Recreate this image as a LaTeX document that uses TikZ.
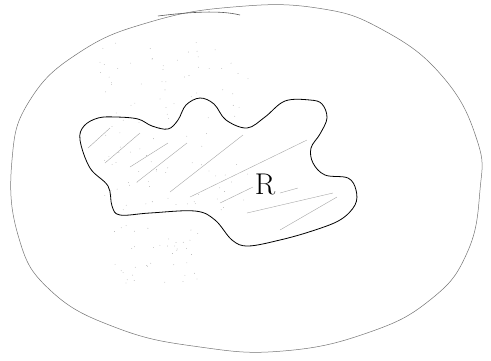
\documentclass[tikz,border=0pt]{standalone}
\begin{document}
\begin{tikzpicture}[x=1pt,y=-1pt,
  outline/.style={draw=black!55, line width=0.5pt},
  blobline/.style={draw=black, line width=0.8pt},
  hatch/.style={draw=black!35, line width=0.4pt},
  stipple/.style={fill=black!35}]
\useasboundingbox (0,0) rectangle (491,360);
% outer ellipse (hand drawn)
\draw[outline] plot[smooth cycle, tension=0.75] coordinates {
  (12,160) (30,100) (80,52) (150,22) (233,7) (317,8) (383,30) (443,77)
  (477,140) (480,190) (467,253) (430,300) (367,333) (283,351) (200,347)
  (117,328) (50,290) (18,235)};
\draw[draw=black!65, line width=0.6pt] (158,16) .. controls (190,12) and (220,10) .. (240,15);
% stipple dots
\pgfmathsetseed{7}
\foreach \i in {1,...,110}{
  \pgfmathsetmacro{\px}{100+rnd*150}
  \pgfmathsetmacro{\py}{40+rnd*170}
  \fill[stipple] (\px,\py) circle (0.4pt);
}
\foreach \i in {1,...,40}{
  \pgfmathsetmacro{\px}{110+rnd*90}
  \pgfmathsetmacro{\py}{225+rnd*60}
  \fill[stipple] (\px,\py) circle (0.4pt);
}
% hatching
\draw[hatch] (88,148) -- (110,128);
\draw[hatch] (105,163) -- (140,133);
\draw[hatch] (130,167) -- (168,143);
\draw[hatch] (137,182) -- (187,143);
\draw[hatch] (170,192) -- (243,135);
\draw[hatch] (190,197) -- (307,140);
\draw[hatch] (220,203) -- (253,187);
\draw[hatch] (280,193) -- (298,188);
\draw[hatch] (247,213) -- (333,193);
\draw[hatch] (280,230) -- (337,197);
% region R
\draw[blobline] plot[smooth cycle, tension=0.6] coordinates {
  (80,140) (90,168) (108,186) (112,206) (120,215) (150,213) (195,211)
  (215,220) (232,240) (248,246) (280,240) (312,231) (340,220) (355,205)
  (356,190) (348,178) (325,175) (313,163) (311,148) (320,134) (327,118)
  (322,104) (310,100) (285,101) (265,117) (247,128) (226,120) (214,104)
  (200,98) (186,105) (178,120) (168,129) (152,126) (138,119) (116,117)
  (98,118) (84,126)};
\node[font=\fontsize{30}{30}\selectfont] (R) at (265,184) {R};
\end{tikzpicture}
\end{document}
